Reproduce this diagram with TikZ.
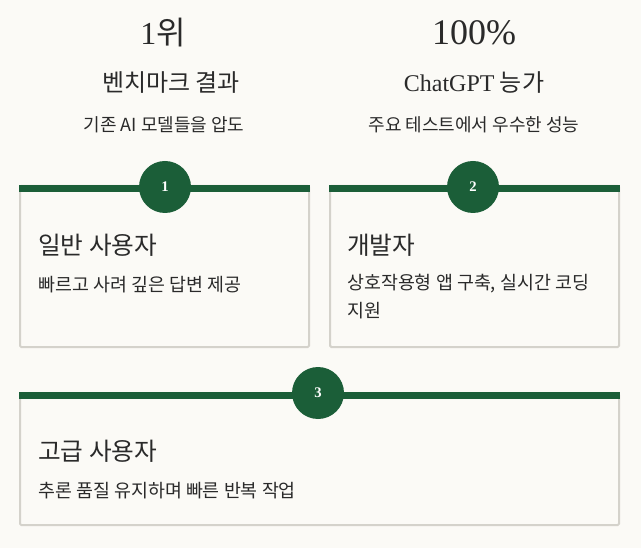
\documentclass[tikz,border=0pt]{standalone}
\usepackage{fontspec}
\setmainfont{Liberation Serif}
\newfontfamily\kr{Noto Sans CJK KR}
\definecolor{bg}{HTML}{FBFAF6}
\definecolor{grn}{HTML}{1B5E38}
\definecolor{brd}{HTML}{D4D2CB}
\definecolor{txt}{HTML}{2A2A2A}
\begin{document}
\begin{tikzpicture}[x=0.75pt,y=-0.75pt,
  card/.style={draw=brd,line width=1.5pt,rounded corners=1pt},
  bar/.style={fill=grn},
  badge/.style={circle,fill=grn,minimum size=39pt,inner sep=0,text=white,font=\bfseries\fontsize{11}{13}\selectfont},
  big/.style={text=txt,font=\fontsize{24}{27}\selectfont},
  ttl/.style={text=txt,font=\kr\fontsize{18}{21}\selectfont},
  sub/.style={text=txt,font=\kr\fontsize{13.5}{16}\selectfont},
  ctitle/.style={text=txt,anchor=west,inner sep=0,font=\kr\fontsize{18.5}{21}\selectfont},
  ctext/.style={text=txt,anchor=west,inner sep=0,font=\kr\fontsize{13.8}{16}\selectfont,align=left}]
\fill[bg] (0,0) rectangle (641,548);
\useasboundingbox (0,0) rectangle (641,548);
\node[big] (n1) at (163,33) {1{\kr 위}};
\node[ttl] (t1) at (171,83) {벤치마크 결과};
\node[sub] (s1) at (164,125) {기존 AI 모델들을 압도};
\node[big,font=\fontsize{27}{30}\selectfont] (n2) at (474,33) {100\%};
\node[ttl] (t2) at (474,83) {{\rmfamily ChatGPT} 능가};
\node[sub] (s2) at (474,125) {주요 테스트에서 우수한 성능};
\draw[card] (20,186) rectangle (309,347);
\fill[bar] (19,185) rectangle (310,192);
\node[badge] (b1) at (165,187) {1};
\node[ctitle] (c1t) at (38,245) {일반 사용자};
\node[ctext] (c1x) at (38,285) {빠르고 사려 깊은 답변 제공};
\draw[card] (330,186) rectangle (619,347);
\fill[bar] (329,185) rectangle (620,192);
\node[badge] (b2) at (473,187) {2};
\node[ctitle] (c2t) at (347,245) {개발자};
\node[ctext,anchor=north west] (c2x) at (347,274) {상호작용형 앱 구축, 실시간 코딩\\[5pt]지원};
\draw[card] (20,394) rectangle (619,525);
\fill[bar] (19,392) rectangle (620,399);
\node[badge] (b3) at (318,393) {3};
\node[ctitle] (c3t) at (38,451) {고급 사용자};
\node[ctext] (c3x) at (38,491) {추론 품질 유지하며 빠른 반복 작업};
\end{tikzpicture}
\end{document}
